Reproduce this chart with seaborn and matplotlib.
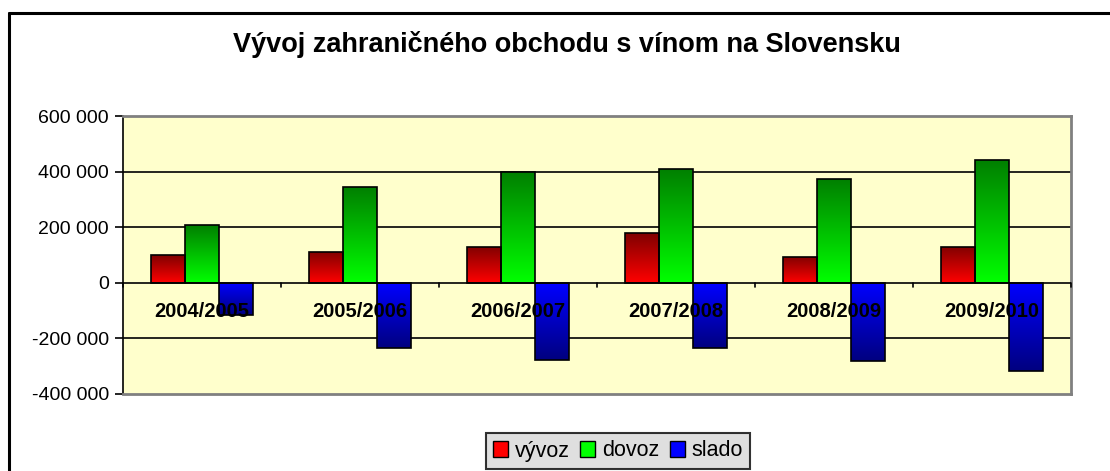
import numpy as np
import pandas as pd
import matplotlib
matplotlib.use("Agg")
import matplotlib.pyplot as plt
import seaborn as sns
from matplotlib.ticker import FuncFormatter, FixedLocator
from matplotlib.colors import LinearSegmentedColormap
from matplotlib.lines import Line2D
from matplotlib.patches import Rectangle

# Data
seasons = ["2004/2005", "2005/2006", "2006/2007", "2007/2008", "2008/2009", "2009/2010"]
vyvoz = [100000, 112000, 130000, 178000, 94000, 130000]
dovoz = [208000, 343000, 398000, 409000, 373000, 441000]
slado = [-116000, -233000, -276000, -233000, -283000, -319000]
series_names = ["vývoz", "dovoz", "slado"]

# (dark end, bright end) for each series
gradients = {
    "vývoz": ("#800000", "#ff0000"),
    "dovoz": ("#008000", "#00ff00"),
    "slado": ("#000080", "#0000ff"),
}

df = pd.DataFrame({
    "season": seasons * 3,
    "value": vyvoz + dovoz + slado,
    "series": [s for s in series_names for _ in seasons],
})

sns.set_style("white")
plt.rcParams["font.family"] = ["Liberation Sans", "DejaVu Sans"]
plt.rcParams["text.color"] = "black"
plt.rcParams["ytick.color"] = "black"
plt.rcParams["xtick.color"] = "black"

fig = plt.figure(figsize=(11.1, 4.71), dpi=100)
ax = fig.add_axes([0.1108, 0.1635, 0.8541, 0.5902])

sns.barplot(data=df, x="season", y="value", hue="series", hue_order=series_names,
            order=seasons, width=0.645, palette=["#c00000", "#00c000", "#0000c0"],
            edgecolor="black", linewidth=1.2, ax=ax, legend=False)

ax.set_ylim(-400000, 600000)
ax.set_xlim(-0.5, len(seasons) - 0.5)
ax.set_facecolor("#ffffcc")

# gradient fill for every bar, clipped to its rectangle:
# bright at the zero line, dark at the bar end
n = len(seasons)
for i, patch in enumerate(ax.patches[:3 * n]):
    name = series_names[i // n]
    dark, bright = gradients[name]
    cmap = LinearSegmentedColormap.from_list(name, [bright, dark])
    x0, y0 = patch.get_x(), patch.get_y()
    w, h = patch.get_width(), patch.get_height()
    lo, hi = min(y0, y0 + h), max(y0, y0 + h)
    grad = np.linspace(0, 1, 100).reshape(-1, 1)
    if h < 0:
        grad = grad[::-1]
    img = ax.imshow(grad, cmap=cmap, vmin=0, vmax=1, aspect="auto", origin="lower",
                    extent=(x0, x0 + w, lo, hi),
                    zorder=patch.get_zorder() - 0.1, interpolation="bilinear")
    img.set_clip_path(patch)
    patch.set_facecolor("none")

ax.set_ylim(-400000, 600000)
ax.set_xlim(-0.5, len(seasons) - 0.5)

# grid lines and frame
for yv in [-200000, 200000, 400000]:
    ax.axhline(yv, color="black", lw=1.2, zorder=0.5)
for side in ["top", "right", "bottom"]:
    ax.spines[side].set_color("#808080")
    ax.spines[side].set_linewidth(2)
ax.spines["left"].set_color("black")
ax.spines["left"].set_linewidth(1.2)
ax.axhline(0, color="black", lw=1.2, zorder=3)

# y axis
ax.yaxis.set_major_locator(FixedLocator([-400000, -200000, 0, 200000, 400000, 600000]))
ax.yaxis.set_major_formatter(FuncFormatter(lambda v, p: f"{int(v):,}".replace(",", " ")))
ax.tick_params(axis="y", which="major", length=6, width=1.2, color="black",
               direction="out", labelsize=14, pad=4, left=True)

# x axis: labels below zero inside the plot, ticks at group boundaries
ax.set_xticks(range(n))
ax.set_xticklabels([])
ax.tick_params(axis="x", which="major", length=0)
for i, s in enumerate(seasons):
    ax.text(i, -104000, s, ha="center", va="center", fontsize=14.5,
            fontweight="bold", zorder=5)
for b in np.arange(-0.5, n, 1.0):
    ax.plot([b, b], [0, -14000], color="black", lw=1.2, zorder=3, clip_on=False)

ax.set_xlabel("")
ax.set_ylabel("")

# title
fig.text(567 / 1110, 1 - 52 / 471, "Vývoj zahraničného obchodu s vínom na Slovensku",
         ha="center", va="baseline", fontsize=19.5, fontweight="bold")

# outer chart border (left and top only visible)
fig.add_artist(Line2D([9 / 1110, 9 / 1110], [0, 1 - 13 / 471], color="black", lw=2.2))
fig.add_artist(Line2D([9 / 1110, 1], [1 - 13 / 471, 1 - 13 / 471], color="black", lw=2.2))

# legend
handles = [Rectangle((0, 0), 1, 1, facecolor=gradients[s][1], edgecolor="black", lw=1)
           for s in series_names]
leg = fig.legend(handles, series_names, loc="center", bbox_to_anchor=(618 / 1110, 1 - 451 / 471),
                 ncol=3, fontsize=15.5, frameon=True, handlelength=0.7, handleheight=0.7,
                 handletextpad=0.3, columnspacing=0.5, borderpad=0.35, borderaxespad=0,
                 fancybox=False)
leg.get_frame().set_edgecolor("black")
leg.get_frame().set_linewidth(1.5)
leg.get_frame().set_facecolor("#d8d8d8")

fig.savefig("out.png", dpi=100)
